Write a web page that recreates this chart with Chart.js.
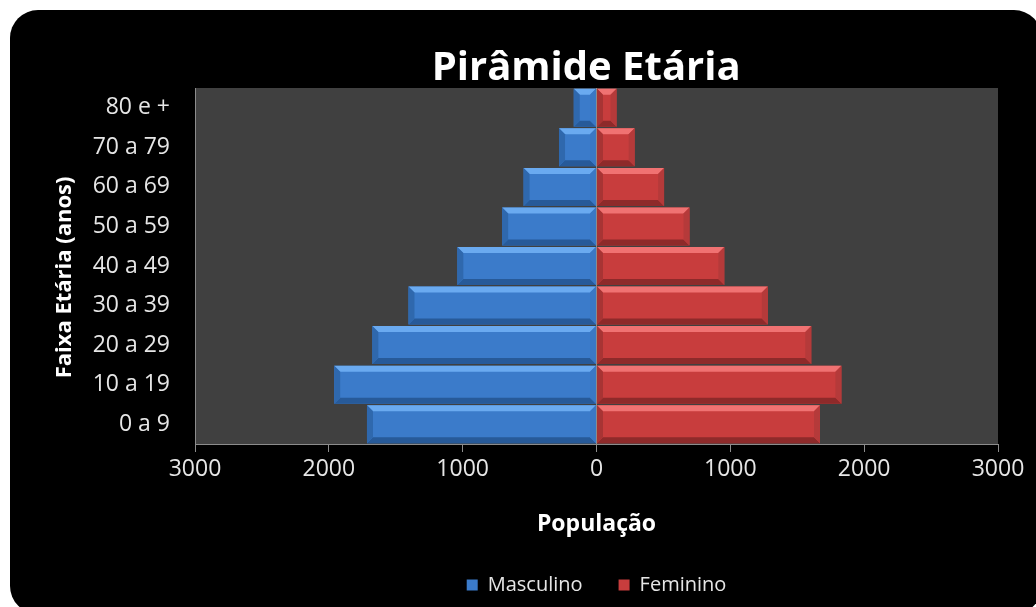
<!DOCTYPE html>
<html>
<head>
<meta charset="utf-8">
<title>Pirâmide Etária</title>
<script src="https://cdn.jsdelivr.net/npm/chart.js@4.4.1/dist/chart.umd.min.js"></script>
<style>
  html, body { margin: 0; padding: 0; background: #fff; overflow: hidden; }
  canvas { display: block; }
</style>
</head>
<body>
<canvas id="piramide" width="1036" height="607"></canvas>
<script>
// faixas etárias, de baixo para cima
const faixas = ['0 a 9', '10 a 19', '20 a 29', '30 a 39', '40 a 49', '50 a 59', '60 a 69', '70 a 79', '80 e +'];
const masculino = [1715, 1960, 1675, 1405, 1040, 705, 545, 280, 170];
const feminino = [1670, 1830, 1605, 1280, 955, 695, 505, 285, 150];
const xTicks = [-3000, -2000, -1000, 0, 1000, 2000, 3000];

Chart.defaults.font.family = '"Open Sans", "Noto Sans", sans-serif';

// cores do chanfro (claro, escuro, laterais)
const bevelColors = [
    { top: '#6aaaf0', bottom: '#275a99', left: '#2f68ad', right: '#3a78c4' },
    { top: '#f07272', bottom: '#8e2a2a', left: '#a83434', right: '#b53a3a' }
];

const fundo = {
    id: 'fundo',
    beforeDraw(chart) {
        const ctx = chart.ctx;
        const a = chart.chartArea;
        ctx.save();
        ctx.fillStyle = '#ffffff';
        ctx.fillRect(0, 0, chart.width, chart.height);
        ctx.fillStyle = '#000000';
        ctx.beginPath();
        ctx.roundRect(10, 10, 1032, 604, 28);
        ctx.fill();
        ctx.fillStyle = '#404040';
        ctx.fillRect(a.left, a.top, a.right - a.left, a.bottom - a.top);
        ctx.restore();
    }
};

// desenha o efeito de chanfro sobre cada barra
const chanfro = {
    id: 'chanfro',
    afterDatasetsDraw(chart) {
        const ctx = chart.ctx;
        ctx.save();
        chart.data.datasets.forEach((ds, i) => {
            const meta = chart.getDatasetMeta(i);
            const c = bevelColors[i];
            meta.data.forEach(el => {
                const p = el.getProps(['x', 'y', 'base', 'height'], true);
                const l = Math.min(p.x, p.base), r = Math.max(p.x, p.base);
                const t = p.y - p.height / 2, b = p.y + p.height / 2;
                const s = Math.min(6, (r - l) / 2, p.height / 2);
                const poly = (pts, col) => {
                    ctx.fillStyle = col;
                    ctx.beginPath();
                    ctx.moveTo(pts[0][0], pts[0][1]);
                    pts.slice(1).forEach(q => ctx.lineTo(q[0], q[1]));
                    ctx.closePath();
                    ctx.fill();
                };
                poly([[l, t], [r, t], [r - s, t + s], [l + s, t + s]], c.top);
                poly([[l, b], [r, b], [r - s, b - s], [l + s, b - s]], c.bottom);
                poly([[l, t], [l + s, t + s], [l + s, b - s], [l, b]], c.left);
                poly([[r, t], [r - s, t + s], [r - s, b - s], [r, b]], c.right);
            });
        });
        ctx.restore();
    }
};

const ctx = document.getElementById('piramide').getContext('2d');
new Chart(ctx, {
    type: 'bar',
    data: {
        labels: faixas,
        datasets: [{
            label: 'Masculino',
            data: masculino.map(v => -v),
            backgroundColor: '#3b7bca',
            borderWidth: 0,
            barPercentage: 0.96,
            categoryPercentage: 1
        }, {
            label: 'Feminino',
            data: feminino,
            backgroundColor: '#c83d3d',
            borderWidth: 0,
            barPercentage: 0.96,
            categoryPercentage: 1
        }]
    },
    options: {
        indexAxis: 'y',
        responsive: false,
        animation: false,
        layout: { padding: { left: 10, right: 38, top: 0, bottom: 2 } },
        scales: {
            x: {
                stacked: true,
                min: -3000,
                max: 3000,
                z: 1,
                afterBuildTicks: s => { s.ticks = xTicks.map(v => ({ value: v })); },
                afterFit: s => { s.height = 95; },
                ticks: {
                    color: '#e6e6e6',
                    font: { size: 23 },
                    padding: 4,
                    maxRotation: 0,
                    callback: v => Math.abs(v)
                },
                grid: {
                    drawOnChartArea: true,
                    color: c => (c.tick && c.tick.value === 0) ? '#8c8c8c' : 'rgba(0,0,0,0)',
                    tickColor: '#8c8c8c',
                    tickLength: 8
                },
                border: { display: true, color: '#8c8c8c' },
                title: {
                    display: true,
                    text: 'População',
                    color: '#ffffff',
                    font: { size: 23, weight: 'bold' },
                    padding: { top: 0, bottom: 1 }
                }
            },
            y: {
                stacked: true,
                reverse: true,
                afterFit: s => { s.width = 185; },
                ticks: {
                    color: '#e6e6e6',
                    font: { size: 23 },
                    padding: 25
                },
                grid: { drawOnChartArea: false, drawTicks: false },
                border: { display: true, color: '#8c8c8c' },
                title: {
                    display: true,
                    text: 'Faixa Etária (anos)    ',
                    color: '#ffffff',
                    font: { size: 22, weight: 'bold' },
                    padding: { top: 42, bottom: 0 }
                }
            }
        },
        plugins: {
            title: {
                display: true,
                text: 'Pirâmide Etária  ',
                color: '#ffffff',
                fullSize: false,
                font: { size: 40, weight: 'bold', lineHeight: 0.95 },
                padding: { top: 50, bottom: 0 }
            },
            legend: {
                position: 'bottom',
                fullSize: false,
                labels: {
                    color: '#e6e6e6',
                    font: { size: 20 },
                    boxWidth: 11,
                    boxHeight: 11,
                    padding: 36
                }
            },
            tooltip: {
                callbacks: {
                    label: c => c.dataset.label + ': ' + Math.abs(c.raw)
                }
            }
        }
    },
    plugins: [fundo, chanfro]
});
</script>
</body>
</html>
